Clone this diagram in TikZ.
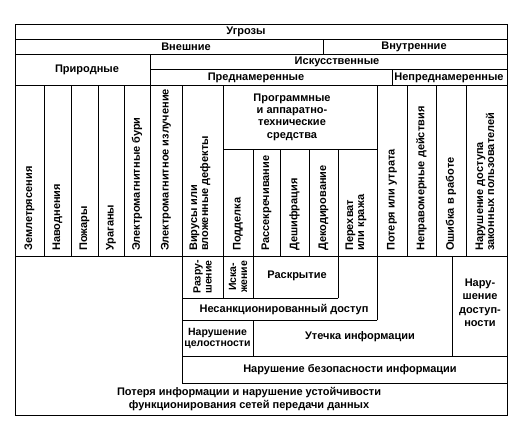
\documentclass[tikz,border=0pt]{standalone}
\usepackage{fontspec}
\setmainfont{Liberation Sans}
\begin{document}
\begin{tikzpicture}[x=1pt,y=-1pt,
  ln/.style={line width=0.8pt, line cap=rect},
  lbl/.style={font=\fontsize{11}{12.3}\selectfont\bfseries, inner sep=0pt, align=center},
  vt/.style={lbl, rotate=90, anchor=west, align=left, font=\fontsize{11}{11}\selectfont\bfseries},
  vc/.style={lbl, rotate=90, font=\fontsize{10.5}{11}\selectfont\bfseries}]
\useasboundingbox[fill=white] (0,0) rectangle (522,447);
% frame
\draw[ln] (15,24) rectangle (507,415);
% horizontal rules
\draw[ln] (15,39) -- (507,39);
\draw[ln] (15,54) -- (507,54);
\draw[ln] (150,69) -- (507,69);
\draw[ln] (15,85) -- (507,85);
\draw[ln] (223,149) -- (377,149);
\draw[ln] (15,256) -- (507,256);
\draw[ln] (182,298) -- (338,298);
\draw[ln] (182,320) -- (377,320);
\draw[ln] (182,356) -- (507,356);
\draw[ln] (182,383) -- (507,383);
% vertical rules
\draw[ln] (323,39) -- (323,54);
\draw[ln] (392,69) -- (392,85);
\draw[ln] (150,54) -- (150,256);
\foreach \x in {44,71,98,124,407,436,466} \draw[ln] (\x,85) -- (\x,256);
\draw[ln] (182,85) -- (182,383);
\draw[ln] (223,85) -- (223,298);
\draw[ln] (253,149) -- (253,298);
\draw[ln] (253,320) -- (253,356);
\draw[ln] (280,149) -- (280,256);
\draw[ln] (309,149) -- (309,256);
\draw[ln] (338,149) -- (338,298);
\draw[ln] (377,85) -- (377,320);
\draw[ln] (452,256) -- (452,356);
% header texts
\node[lbl] (ugr) at (246,32) {Угрозы};
\node[lbl] (vne) at (186,47) {Внешние};
\node[lbl] (vnu) at (414,47) {Внутренние};
\node[lbl] (pri) at (87,70) {Природные};
\node[lbl] (isk) at (337,62) {Искусственные};
\node[lbl] (pre) at (256,77.5) {Преднамеренные};
\node[lbl] (nep) at (449,77.5) {Непреднамеренные};
\node[lbl] (prg) at (292,117) {Программные\\и аппаратно-\\технические\\средства};
% column texts
\node[vt] (c1) at (29.5,251) {Землетрясения};
\node[vt] (c2) at (57.5,251) {Наводнения};
\node[vt] (c3) at (84.5,251) {Пожары};
\node[vt] (c4) at (111,251) {Ураганы};
\node[vt] (c5) at (137,251) {Электромагнитные бури};
\node[vt] (c6) at (166,251) {Электромагнитное излучение};
\node[vt] (c7) at (200,251) {Вирусы или\\вложенные дефекты};
\node[vt] (c8) at (238,251) {Подделка};
\node[vt] (c9) at (266.5,251) {Рассекречивание};
\node[vt] (c10) at (294.5,251) {Дешифрация};
\node[vt] (c11) at (323.5,251) {Декодирование};
\node[vt] (c12) at (356,251) {Перехват\\или кража};
\node[vt] (c13) at (392,251) {Потеря или утрата};
\node[vt] (c14) at (421.5,251) {Неправомерные действия};
\node[vt] (c15) at (451,251) {Ошибка в работе};
\node[vt] (c16) at (485,251) {Нарушение доступа\\законных пользователей};
% bottom texts
\node[vc] (raz) at (202.5,277) {Разру-\\шение};
\node[vc] (iska) at (238,277) {Иска-\\жение};
\node[lbl] (rask) at (297,276) {Раскрытие};
\node[lbl] (nsd) at (284,310) {Несанкционированный доступ};
\node[lbl, font=\fontsize{10.5}{11}\selectfont\bfseries] (cel) at (217.5,338) {Нарушение\\целостности};
\node[lbl] (ute) at (360,337) {Утечка информации};
\node[lbl, font=\fontsize{11}{13.5}\selectfont\bfseries] (dost) at (480,303) {Нару-\\шение\\доступ-\\ности};
\node[lbl] (bez) at (350,369.5) {Нарушение безопасности информации};
\node[lbl] (pot) at (249,399) {Потеря информации и нарушение устойчивости\\функционирования сетей передачи данных};
\end{tikzpicture}
\end{document}
